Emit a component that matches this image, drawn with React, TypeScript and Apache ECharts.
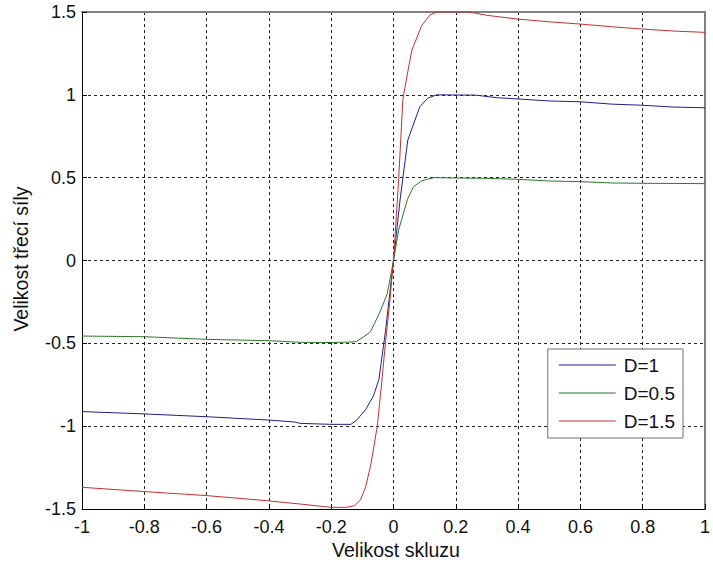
import React, { useEffect, useRef } from "react";
import * as echarts from "echarts";

// Slip (x) and friction force (y) for each D
const slipD1 = [-1, -0.8, -0.6, -0.4, -0.317, -0.3, -0.2, -0.137, -0.12, -0.09, -0.065, -0.047, -0.026, -0.012, 0, 0.021, 0.046, 0.084, 0.11, 0.138, 0.2, 0.265, 0.33, 0.4, 0.5, 0.6, 0.7, 0.8, 0.9, 1.0];
const forceD1 = [-0.912, -0.926, -0.943, -0.963, -0.975, -0.983, -0.989, -0.989, -0.967, -0.902, -0.82, -0.72, -0.43, -0.2, 0.0, 0.365, 0.727, 0.926, 0.98, 1.0, 0.999, 0.998, 0.983, 0.975, 0.963, 0.958, 0.944, 0.937, 0.926, 0.922];

const slipD05 = [-1, -0.8, -0.6, -0.4, -0.3, -0.2, -0.15, -0.12, -0.095, -0.074, -0.045, -0.02, 0, 0.0165, 0.045, 0.064, 0.09, 0.107, 0.13, 0.2, 0.3, 0.4, 0.5, 0.6, 0.7, 0.8, 0.9, 1.0];
const forceD05 = [-0.456, -0.46, -0.476, -0.484, -0.494, -0.495, -0.493, -0.49, -0.46, -0.43, -0.318, -0.2, 0.0, 0.184, 0.37, 0.445, 0.48, 0.49, 0.5, 0.498, 0.496, 0.49, 0.48, 0.476, 0.468, 0.466, 0.465, 0.464];

const slipD15 = [-1, -0.8, -0.6, -0.4, -0.3, -0.2, -0.15, -0.125, -0.106, -0.09, -0.074, -0.052, -0.037, -0.026, -0.012, 0, 0.0165, 0.03, 0.041, 0.059, 0.091, 0.116, 0.138, 0.2, 0.243, 0.3, 0.4, 0.5, 0.6, 0.7, 0.8, 0.9, 1.0];
const forceD15 = [-1.369, -1.395, -1.419, -1.451, -1.47, -1.49, -1.49, -1.48, -1.445, -1.37, -1.244, -1.0, -0.72, -0.5, -0.25, 0, 0.486, 0.97, 1.09, 1.27, 1.42, 1.48, 1.5, 1.5, 1.5, 1.48, 1.457, 1.441, 1.427, 1.411, 1.397, 1.385, 1.377];

const seriesNames = ["D=1", "D=0.5", "D=1.5"];
const seriesColors = ["#1f1f88", "#2a7a2a", "#c43030"];

const xTitle = "Velikost skluzu";
const yTitle = "Velikost třecí síly";

const FONT = "'Liberation Sans', Arial, sans-serif";

function pairs(xs: number[], ys: number[]) {
  return xs.map((x, i) => [x, ys[i]]);
}

export default function App() {
  const ref = useRef<HTMLDivElement>(null);
  useEffect(() => {
    if (!ref.current) return;
    const chart = echarts.init(ref.current, null, { renderer: "svg" });
    const gridLine = { show: true, lineStyle: { color: "#222", type: [3, 3] as any, width: 1 } };
    const datasets = [pairs(slipD1, forceD1), pairs(slipD05, forceD05), pairs(slipD15, forceD15)];
    chart.setOption({
      animation: false,
      backgroundColor: "#ffffff",
      textStyle: { fontFamily: FONT },
      grid: { left: 82, right: 2, top: 12, bottom: 57, containLabel: false },
      xAxis: [
        {
          type: "value",
          min: -1,
          max: 1,
          interval: 0.2,
          position: "bottom",
          axisLine: { show: true, onZero: false, lineStyle: { color: "#000", width: 1 } },
          axisTick: { show: true, inside: true, length: 5, lineStyle: { color: "#000" } },
          axisLabel: { color: "#111", fontSize: 18, fontFamily: FONT, margin: 9, showMaxLabel: true, showMinLabel: true },
          splitLine: gridLine,
        },
        {
          type: "value",
          min: -1,
          max: 1,
          interval: 0.2,
          position: "top",
          axisLine: { show: true, onZero: false, lineStyle: { color: "#808080", width: 2 } },
          axisTick: { show: false },
          axisLabel: { show: false },
          splitLine: { show: false },
        },
      ],
      yAxis: [
        {
          type: "value",
          min: -1.5,
          max: 1.5,
          interval: 0.5,
          position: "left",
          axisLine: { show: true, onZero: false, lineStyle: { color: "#000", width: 1 } },
          axisTick: { show: true, inside: true, length: 5, lineStyle: { color: "#000" } },
          axisLabel: { color: "#111", fontSize: 18, fontFamily: FONT, margin: 6 },
          splitLine: gridLine,
        },
        {
          type: "value",
          min: -1.5,
          max: 1.5,
          interval: 0.5,
          position: "right",
          axisLine: { show: true, onZero: false, lineStyle: { color: "#808080", width: 2 } },
          axisTick: { show: false },
          axisLabel: { show: false },
          splitLine: { show: false },
        },
      ],
      legend: {
        show: true,
        orient: "vertical",
        right: 30,
        top: 349,
        padding: [6.5, 8, 7.5, 11],
        itemGap: 9,
        itemWidth: 57,
        itemHeight: 1,
        icon: "rect",
        backgroundColor: "#ffffff",
        borderColor: "#6e6e6e",
        borderWidth: 1,
        borderRadius: 0,
        data: seriesNames,
        textStyle: { color: "#111", fontSize: 19, fontFamily: FONT, padding: [0, 0, 0, 3] },
      },
      graphic: [
        {
          type: "text",
          x: 396,
          y: 550,
          style: { text: xTitle, fill: "#111", font: `19.5px ${FONT}`, textAlign: "center", textVerticalAlign: "middle" },
        },
        {
          type: "text",
          x: 21,
          y: 259,
          rotation: Math.PI / 2,
          style: { text: yTitle, fill: "#111", font: `19.5px ${FONT}`, textAlign: "center", textVerticalAlign: "middle" },
        },
      ],
      series: seriesNames.map((name, i) => ({
        name,
        type: "line",
        xAxisIndex: 0,
        yAxisIndex: 0,
        data: datasets[i],
        showSymbol: false,
        symbol: "none",
        smooth: false,
        clip: false,
        lineStyle: { color: seriesColors[i], width: 1 },
        itemStyle: { color: seriesColors[i] },
      })),
    });
    return () => chart.dispose();
  }, []);
  return (
    <div
      ref={ref}
      style={{ position: "fixed", left: 0, top: 0, width: 713, height: 566, background: "#fff" }}
    />
  );
}
